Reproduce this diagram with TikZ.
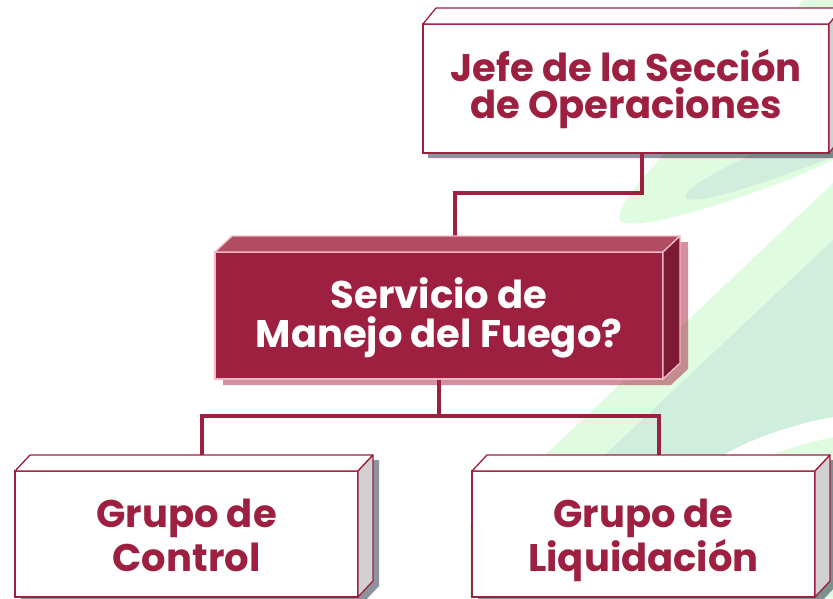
\documentclass[tikz,border=0pt]{standalone}
\usepackage{fontspec}
\setmainfont{Poppins}
\usetikzlibrary{calc}
\definecolor{wine}{HTML}{9E2040}
\definecolor{winetop}{HTML}{B04D63}
\definecolor{wineside}{HTML}{7D1A34}
\definecolor{pinkline}{HTML}{F4B8C4}
\definecolor{sidegray}{HTML}{D0D0D0}
\definecolor{lgreen}{HTML}{DFFBE0}
\definecolor{mint}{HTML}{CFEEDD}
\definecolor{shadowgray}{RGB}{25,40,62}
\definecolor{shadowwine}{RGB}{168,33,63}
\pgfdeclarelayer{bg}
\pgfsetlayers{bg,main}
\newcommand\cubefaces[6]{%
  \filldraw[fill=#4, draw=#6, line width=1.3pt, line join=round] (#1.north west) -- ++(#2,#3) -- ($(#1.north east)+(#2,#3)$) -- (#1.north east) -- cycle;
  \filldraw[fill=#5, draw=#6, line width=1.3pt, line join=round] (#1.north east) -- ++(#2,#3) -- ($(#1.south east)+(#2,#3)$) -- (#1.south east) -- cycle;
}
\newcommand\cubeshadow[7]{%
  \fill[#6, fill opacity=#7] ($(#1.south west)+(#4,#5)$) -- ($(#1.north west)+(#4,#5)$) -- ($(#1.north west)+(#2+#4,#3+#5)$) -- ($(#1.north east)+(#2+#4,#3+#5)$) -- ($(#1.south east)+(#2+#4,#3+#5)$) -- ($(#1.south east)+(#4,#5)$) -- cycle;
}
\tikzset{
  x=1pt, y=-1pt,
  whitebox/.style={draw=wine, fill=white, line width=1.3pt, outer sep=0pt, inner sep=0pt,
    text=wine, align=center, font=\bfseries\fontsize{38.5}{39}\selectfont},
  winebox/.style={draw=pinkline, fill=wine, line width=1.3pt, outer sep=0pt, inner sep=0pt,
    text=white, align=center, font=\bfseries\fontsize{38.5}{39}\selectfont},
  conn/.style={draw=wine, line width=4pt}
}
\begin{document}
\begin{tikzpicture}
\useasboundingbox (0,0) rectangle (833,598);
% nodes (front faces)
\node[whitebox, minimum width=406pt, minimum height=129pt, font=\bfseries\fontsize{38.5}{37}\selectfont] (jefe) at (626,88.5) {\rule{0pt}{33pt}Jefe de la Sección\\de Operaciones};
\node[winebox, minimum width=448pt, minimum height=127pt] (serv) at (439,315.5) {\rule{0pt}{35pt}Servicio de\\Manejo del Fuego?};
\node[whitebox, minimum width=343pt, minimum height=126pt] (ctrl) at (186.5,534) {\rule{0pt}{41pt}Grupo de\\Control\vphantom{óq}};
\node[whitebox, minimum width=343pt, minimum height=126pt] (liq) at (643.5,534) {\rule{0pt}{41pt}Grupo de\\Liquidación};
% 3D faces
\cubefaces{jefe}{13}{-16}{white}{sidegray}{wine}
\cubefaces{serv}{17}{-16}{winetop}{wineside}{pinkline}
\cubefaces{ctrl}{15}{-16}{white}{sidegray}{wine}
\cubefaces{liq}{15}{-16}{white}{sidegray}{wine}
\begin{pgfonlayer}{bg}
  % background shapes
  \fill[lgreen] (470,526) -- (833,183) -- (833,598) -- (470,598) -- cycle;
  \fill[mint] (540,516) -- (833,240) -- (833,417) .. controls (790,425) and (750,440) .. (727,453) -- (690,500) -- (540,530) -- cycle;
  \fill[white] (727,453) .. controls (750,440) and (790,425) .. (833,417) -- (833,437) .. controls (810,442) and (790,448) .. (777,453) -- (760,480) -- (700,480) -- cycle;
  \fill[lgreen] (668,140) -- (668,150) .. controls (640,180) and (610,215) .. (622,222) .. controls (640,232) and (760,195) .. (833,160) -- (833,140) -- cycle;
  \fill[mint] (770,140) -- (760,150) .. controls (720,170) and (680,190) .. (686,198) .. controls (695,206) and (760,185) .. (833,157) -- (833,140) -- cycle;
  \fill[lgreen] (803,0) -- (833,0) -- (833,8) -- (797,8) -- cycle;
  % shadows
  \cubeshadow{jefe}{13}{-16}{5}{5}{shadowgray}{0.5}
  \cubeshadow{serv}{17}{-16}{8}{6}{shadowwine}{0.5}
  \cubeshadow{ctrl}{15}{-16}{6}{5}{shadowgray}{0.5}
  \cubeshadow{liq}{15}{-16}{6}{5}{shadowgray}{0.5}
  % connectors
  \draw[conn] ([xshift=16pt]jefe.south) -- ++(0,40) -| ([xshift=16pt]serv.north);
  \draw[conn] (serv.south) -- ++(0,37) -| ([xshift=15.5pt]ctrl.north);
  \draw[conn] (serv.south) -- ++(0,37) -| ([xshift=15.5pt]liq.north);
\end{pgfonlayer}
\end{tikzpicture}
\end{document}
